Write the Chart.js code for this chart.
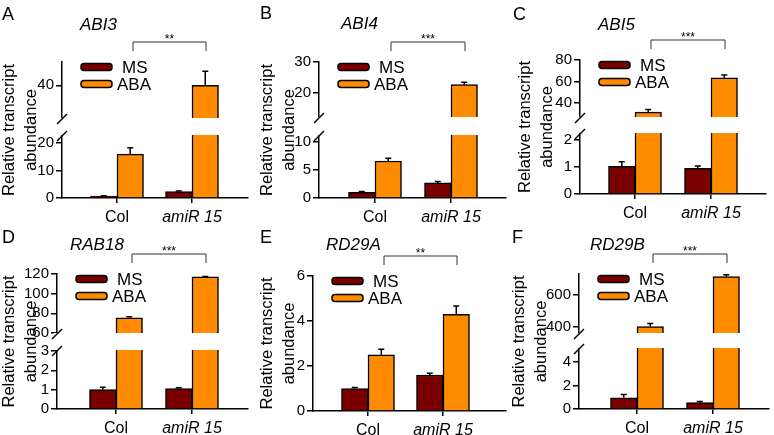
<!DOCTYPE html>
<html>
<head>
<meta charset="utf-8">
<script src="https://cdn.jsdelivr.net/npm/chart.js@4.4.1/dist/chart.umd.min.js"></script>
<style>
  html, body { margin: 0; padding: 0; background: #fff; }
  #fig { position: relative; width: 774px; height: 435px; overflow: hidden;
         font-family: Arial, "Liberation Sans", sans-serif; color: #000; }
  .panel { position: absolute; }
  .letter { position: absolute; font-size: 18px; line-height: 18px; white-space: nowrap; }
  .gene { position: absolute; font-size: 17px; line-height: 17px; font-style: italic; white-space: nowrap; }
</style>
</head>
<body>
<div id="fig"></div>
<script>
// ---- data ----
const groups = ['Col', 'amiR 15'];
const seriesNames = ['MS', 'ABA'];
const genes = ['ABI3', 'ABI4', 'ABI5', 'RAB18', 'RD29A', 'RD29B'];
const letters = ['A', 'B', 'C', 'D', 'E', 'F'];
const stars = ['**', '***', '***', '***', '**', '***'];

const msMean  = [[0.7, 2.3], [1.0, 2.7], [1.02, 0.95], [1.0, 1.05], [1.0, 1.6], [0.95, 0.55]];
const msErr   = [[0.1, 0.3], [0.15, 0.25], [0.17, 0.08], [0.13, 0.05], [0.05, 0.08], [0.28, 0.1]];
const abaMean = [[16, 40], [6.6, 22.7], [31.5, 63.5], [75.5, 117], [2.5, 4.3], [402, 715]];
const abaErr  = [[2.3, 6], [0.5, 0.8], [2.5, 2.5], [1, 0.5], [0.25, 0.37], [20, 12]];

// y axis: lower and upper (after the break) segments, and their ticks
const lowRange  = [[0, 23], [0, 11.25], [0, 2.25], [0, 3.05], [0, 6], [0, 5.2]];
const highRange = [[26, 50], [12.3, 30], [27, 80], [60, 120], null, [362, 731]];
const lowTicks  = [[0, 10, 20], [0, 5, 10], [0, 1, 2], [0, 1, 2, 3], [0, 2, 4, 6], [0, 2, 4]];
const highTicks = [[40], [20, 30], [40, 60, 80], [60, 80, 100, 120], [], [400, 600]];

// ---- layout (pixels) ----
const panels = [
  { x0: 0,   y0: 0,   L: 62,  T: 62,  R: 248, B: 198, loPx: 63, gap: 17, col: 117, step: 75, letter: [2, 20],   gene: [80, 30] },
  { x0: 258, y0: 0,   L: 319, T: 62,  R: 506, B: 198, loPx: 63, gap: 18, col: 375, step: 76, letter: [260, 19], gene: [341, 29] },
  { x0: 516, y0: 0,   L: 580, T: 60,  R: 766, B: 194, loPx: 61, gap: 16, col: 635, step: 76, letter: [513, 20], gene: [598, 30] },
  { x0: 0,   y0: 210, L: 57,  T: 274, R: 248, B: 409, loPx: 59, gap: 17, col: 116, step: 76, letter: [2, 243],  gene: [70, 250] },
  { x0: 258, y0: 210, L: 313, T: 276, R: 506, B: 411, loPx: 0,  gap: 0,  col: 368, step: 75, letter: [260, 243], gene: [326, 250] },
  { x0: 510, y0: 210, L: 579, T: 274, R: 769, B: 409, loPx: 61, gap: 15, col: 637, step: 76, letter: [512, 243], gene: [590, 250] },
];

const FONT = 'Arial, "Liberation Sans", sans-serif';
const MS_COLOR = '#7a0000';
const ABA_COLOR = '#ff8c00';

Chart.defaults.font.family = FONT;
Chart.defaults.color = '#000';

// Linear scale with an optional break between two segments
class BrokenScale extends Chart.LinearScale {
  determineDataLimits() {
    const b = this.options.brk;
    this.min = b.lo[0];
    this.max = b.hi ? b.hi[1] : b.lo[1];
  }
  buildTicks() {
    return this.options.tickValues.map(v => ({ value: v }));
  }
  getPixelForValue(v) {
    const b = this.options.brk;
    const loPx = b.hi ? b.loPx : this.bottom - this.top;
    if (!b.hi || v <= b.lo[1]) {
      return this.bottom - (v - b.lo[0]) / (b.lo[1] - b.lo[0]) * loPx;
    }
    const loTop = this.bottom - loPx;
    const hiBot = loTop - b.gap;
    if (v < b.hi[0]) {
      return loTop - (v - b.lo[1]) / (b.hi[0] - b.lo[1]) * b.gap;
    }
    return hiBot - (v - b.hi[0]) / (b.hi[1] - b.hi[0]) * (hiBot - this.top);
  }
}
BrokenScale.id = 'broken';
BrokenScale.defaults = Chart.LinearScale.defaults;
Chart.register(BrokenScale);

// error bars, axis break, significance bracket and legend
const decor = {
  id: 'decor',
  afterDatasetsDraw(chart, args, opts) {
    const { ctx, chartArea: a, scales: { x, y } } = chart;
    ctx.save();

    // error bars (upper half only)
    ctx.strokeStyle = '#000';
    ctx.lineWidth = 1.5;
    chart.data.datasets.forEach((ds, di) => {
      chart.getDatasetMeta(di).data.forEach((bar, i) => {
        const top = y.getPixelForValue(ds.data[i].y + ds.errors[i]);
        ctx.beginPath();
        ctx.moveTo(bar.x, bar.y);
        ctx.lineTo(bar.x, top);
        ctx.moveTo(bar.x - 3, top);
        ctx.lineTo(bar.x + 3, top);
        ctx.stroke();
      });
    });

    // white strip and slashes for the broken axis
    const b = y.options.brk;
    if (b.hi) {
      const loTop = a.bottom - b.loPx;
      const hiBot = loTop - b.gap;
      ctx.fillStyle = '#fff';
      ctx.fillRect(a.left - 3, hiBot, a.right - a.left + 3, b.gap);
      ctx.strokeStyle = '#000';
      ctx.lineWidth = 1.5;
      [hiBot + 1, loTop + 1].forEach(yy => {
        ctx.beginPath();
        ctx.moveTo(a.left - 5, yy + 5);
        ctx.lineTo(a.left + 5, yy - 5);
        ctx.stroke();
      });
    }

    // significance bracket
    const x1 = x.getPixelForValue(0) + 16;
    const x2 = x.getPixelForValue(1) + 14;
    const by = a.top - 20;
    ctx.strokeStyle = '#333';
    ctx.lineWidth = 1;
    ctx.beginPath();
    ctx.moveTo(x1, by + 9);
    ctx.lineTo(x1, by);
    ctx.lineTo(x2, by);
    ctx.lineTo(x2, by + 9);
    ctx.stroke();
    ctx.fillStyle = '#000';
    ctx.font = '12px ' + FONT;
    ctx.textAlign = 'center';
    ctx.textBaseline = 'alphabetic';
    ctx.fillText(opts.stars, (x1 + x2) / 2, by + 1);

    // legend
    const lx = a.left + 19;
    chart.data.datasets.forEach((ds, i) => {
      const cy = a.top + 5 + i * 17;
      ctx.fillStyle = ds.backgroundColor;
      ctx.strokeStyle = '#000';
      ctx.lineWidth = 1.5;
      ctx.beginPath();
      ctx.roundRect(lx, cy - 3.5, 31, 7, 3);
      ctx.fill();
      ctx.stroke();
      ctx.fillStyle = '#000';
      ctx.font = '17px ' + FONT;
      ctx.textAlign = 'left';
      ctx.textBaseline = 'middle';
      ctx.fillText(ds.label, lx + 31 + (i === 0 ? 10 : 5), cy + 1);
    });

    ctx.restore();
  }
};

const fig = document.getElementById('fig');

function addText(cls, text, x, baseline, size) {
  const el = document.createElement('div');
  el.className = cls;
  el.textContent = text;
  el.style.left = x + 'px';
  el.style.top = (baseline - size * 0.8465) + 'px';
  fig.appendChild(el);
}

function dataset(label, means, errors, color) {
  return {
    label: label,
    data: means.map((v, i) => ({ x: i, y: v })),
    errors: errors,
    backgroundColor: color,
    borderColor: '#000',
    borderWidth: 1.5,
    borderSkipped: 'start',
    barThickness: 26.5
  };
}

panels.forEach((p, k) => {
  const w = p.R - p.x0 + 6;
  const h = p.B - p.y0 + 30;
  const div = document.createElement('div');
  div.className = 'panel';
  div.style.left = p.x0 + 'px';
  div.style.top = p.y0 + 'px';
  const canvas = document.createElement('canvas');
  canvas.width = w;
  canvas.height = h;
  div.appendChild(canvas);
  fig.appendChild(div);

  new Chart(canvas, {
    type: 'bar',
    data: {
      datasets: [
        dataset(seriesNames[0], msMean[k], msErr[k], MS_COLOR),
        dataset(seriesNames[1], abaMean[k], abaErr[k], ABA_COLOR)
      ]
    },
    options: {
      responsive: false,
      animation: false,
      events: [],
      layout: { padding: { left: 0, top: p.T - p.y0, right: w - (p.R - p.x0), bottom: 0 } },
      plugins: {
        legend: { display: false },
        tooltip: { enabled: false },
        decor: { stars: stars[k] }
      },
      scales: {
        x: {
          type: 'linear',
          offset: false,
          min: (p.L - p.col) / p.step,
          max: (p.R - p.col) / p.step,
          afterBuildTicks: s => { s.ticks = groups.map((g, i) => ({ value: i })); },
          afterFit: s => { s.height = 30; },
          ticks: {
            autoSkip: false,
            maxRotation: 0,
            padding: 5,
            color: '#000',
            callback: (v, i) => groups[i],
            font: c => ({ family: FONT, size: 16, style: c.index === 1 ? 'italic' : 'normal' })
          },
          grid: { offset: false, drawOnChartArea: false, tickLength: 5, color: '#000', lineWidth: 1.5 },
          border: { color: '#000', width: 1.5 }
        },
        y: {
          type: 'broken',
          brk: { lo: lowRange[k], hi: highRange[k], loPx: p.loPx, gap: p.gap },
          tickValues: lowTicks[k].concat(highTicks[k]),
          afterFit: s => { s.width = p.L - p.x0; },
          ticks: {
            autoSkip: false,
            padding: 2,
            color: '#000',
            font: { family: FONT, size: 15 },
            callback: v => String(v)
          },
          grid: { drawOnChartArea: false, tickLength: 6, color: '#000', lineWidth: 1.5 },
          border: { color: '#000', width: 1.5 },
          title: {
            display: true,
            text: ['Relative transcript', 'abundance'],
            color: '#000',
            font: { family: FONT, size: 16.5, lineHeight: 1.33 },
            padding: { top: -1.5, bottom: 0 }
          }
        }
      }
    },
    plugins: [decor]
  });

  addText('letter', letters[k], p.letter[0], p.letter[1], 18);
  addText('gene', genes[k], p.gene[0], p.gene[1], 17);
});
</script>
</body>
</html>
